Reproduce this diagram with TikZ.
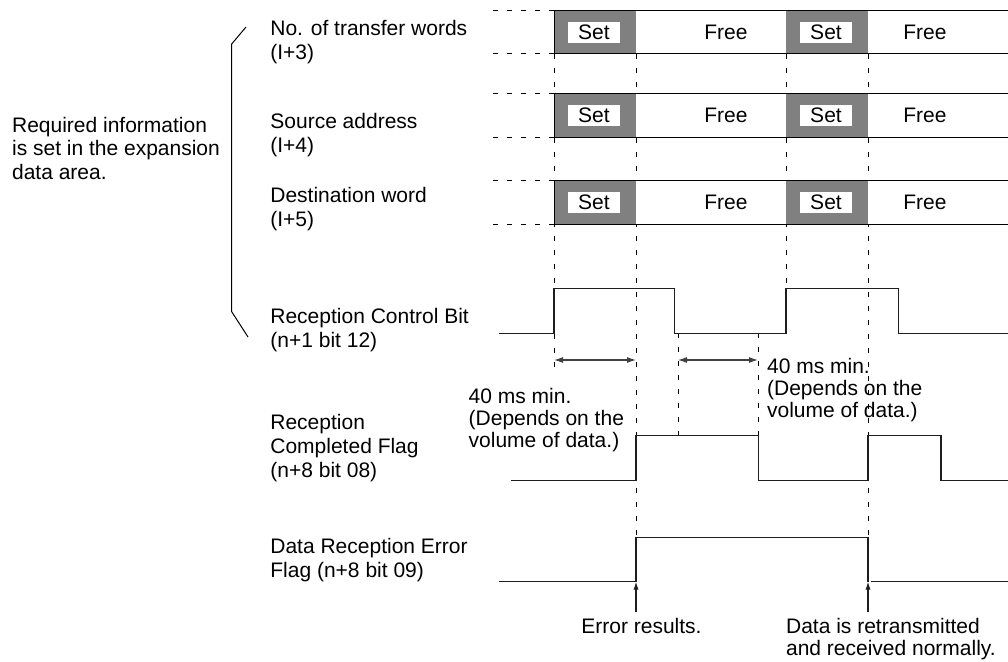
\documentclass[tikz,border=0pt]{standalone}
\usepackage{fontspec}
\setmainfont{Liberation Sans}
\usetikzlibrary{arrows.meta}
\definecolor{tdGray}{RGB}{128,128,128}
\definecolor{tdInk}{RGB}{30,30,30}
\tikzset{
    tdText/.style={
        anchor=north west,
        inner sep=0pt,
        align=left,
        font=\fontsize{10.5}{12}\selectfont
    },
    tdNote/.style={tdText, font=\fontsize{10.5}{10.85}\selectfont},
    tdSideNote/.style={tdText, font=\fontsize{10.5}{11.65}\selectfont},
    % Rows of the data area
    tdRow/.style={draw=black, fill=white, line width=0.5pt},
    tdSet/.style={fill=tdGray, draw=none},
    tdSetTag/.style={
        fill=white,
        inner sep=0pt,
        minimum width=26pt,
        minimum height=10.2pt,
        font=\fontsize{10.5}{12}\selectfont
    },
    tdFree/.style={inner sep=0pt, font=\fontsize{10.5}{12}\selectfont},
    % Lines
    tdSignal/.style={draw=tdInk, line width=0.55pt},
    tdGuide/.style={draw=black, line width=0.5pt, dash pattern=on 2.5pt off 4.5pt},
    tdDim/.style={<->, >={Latex[length=4.5pt,width=3pt]}, draw=black!75, line width=0.55pt},
    tdPointer/.style={->, >={Latex[length=4pt,width=2.6pt]}, draw=tdInk, line width=0.55pt}
}

\begin{document}
\begin{tikzpicture}[x=0.5pt, y=-0.5pt]
    \useasboundingbox (0,0) rectangle (1008,662);
    \clip (0,0) rectangle (1008,662);

    % Guide lines
    \draw[tdGuide] (554,54) -- (554,368);
    \draw[tdGuide] (636,54) -- (636,537.7);
    \draw[tdGuide] (786,54) -- (786,288.7);
    \draw[tdGuide] (868,54) -- (868,537.7);
    \draw[tdGuide] (678,333.3) -- (678,435.7);
    \draw[tdGuide] (758,333.3) -- (758,435.7);

    % Expansion data area
    \foreach \rt [count=\r] in {10.7,94,181} {
        \fill[white] (554,\rt) rectangle (1010,{\rt+43.3});
        \fill[tdSet] (554,\rt) rectangle (636,{\rt+43.3});
        \fill[tdSet] (786,\rt) rectangle (868,{\rt+43.3});
        \draw[line width=0.5pt] (1010,\rt) -| (554,{\rt+43.3}) -- (1010,{\rt+43.3});
        \draw[tdGuide] (493,\rt) -- (554,\rt);
        \draw[tdGuide] (493,{\rt+43.3}) -- (554,{\rt+43.3});
        \node[tdSetTag] (setA\r) at (594,{\rt+21.7}) {Set};
        \node[tdSetTag] (setB\r) at (826,{\rt+21.7}) {Set};
        \node[tdFree] (freeA\r) at (726,{\rt+21.7}) {Free};
        \node[tdFree] (freeB\r) at (925,{\rt+21.7}) {Free};
    }

    % Signals
    \draw[tdSignal] (499,333.3) -- (554,333.3) -- (554,288.7) -- (674.3,288.7)
        -- (674.3,333.3) -- (786,333.3) -- (786,288.7) -- (898.3,288.7)
        -- (898.3,333.3) -- (1010,333.3);
    \draw[tdSignal] (511,480.7) -- (636,480.7) -- (636,435.7) -- (758.3,435.7)
        -- (758.3,480.7) -- (868,480.7) -- (868,435.7) -- (941,435.7)
        -- (941,480.7) -- (1010,480.7);
    \draw[tdSignal] (499,581.7) -- (636,581.7) -- (636,537.7) -- (868,537.7)
        -- (868,581.7);
    \draw[tdSignal] (871,581.7) -- (1010,581.7);

    % Minimum times
    \coordinate (dimA1) at (554,360);
    \coordinate (dimA2) at (636,360);
    \coordinate (dimB1) at (678,360);
    \coordinate (dimB2) at (758,360);
    \draw[tdDim] (dimA1) -- (dimA2);
    \draw[tdDim] (dimB1) -- (dimB2);

    % Brace
    \draw[line width=0.5pt] (246,27) -- (231.7,44) -- (231.7,311.7) -- (248,337);

    % Labels
    \node[tdSideNote] (required) at (11.7,117) {Required information\\is set in the expansion\\data area.};
    \node[tdText] (words) at (270,20) {No. of transfer words\\(I+3)};
    \node[tdText] (source) at (270,113) {Source address\\(I+4)};
    \node[tdText] (dest) at (270,187) {Destination word\\(I+5)};
    \node[tdText] (ctrl) at (270,308) {Reception Control Bit\\(n+1 bit 12)};
    \node[tdText] (done) at (270,414) {Reception\\Completed Flag\\(n+8 bit 08)};
    \node[tdText] (fail) at (270,538) {Data Reception Error\\Flag (n+8 bit 09)};
    \node[tdNote] (minA) at (468.3,388) {40 ms min.\\(Depends on the\\volume of data.)};
    \node[tdNote] (minB) at (766.7,358) {40 ms min.\\(Depends on the\\volume of data.)};

    % Events
    \node[tdNote] (errNote) at (581,618) {Error results.};
    \node[tdNote] (retryNote) at (785.7,618) {Data is retransmitted\\and received normally.};
    \coordinate (errFoot) at (636,611.7);
    \coordinate (errTip) at (636,581.7);
    \coordinate (retryFoot) at (868,611.7);
    \coordinate (retryTip) at (868,581.7);
    \draw[tdPointer] (errFoot) -- (errTip);
    \draw[tdPointer] (retryFoot) -- (retryTip);
\end{tikzpicture}
\end{document}
